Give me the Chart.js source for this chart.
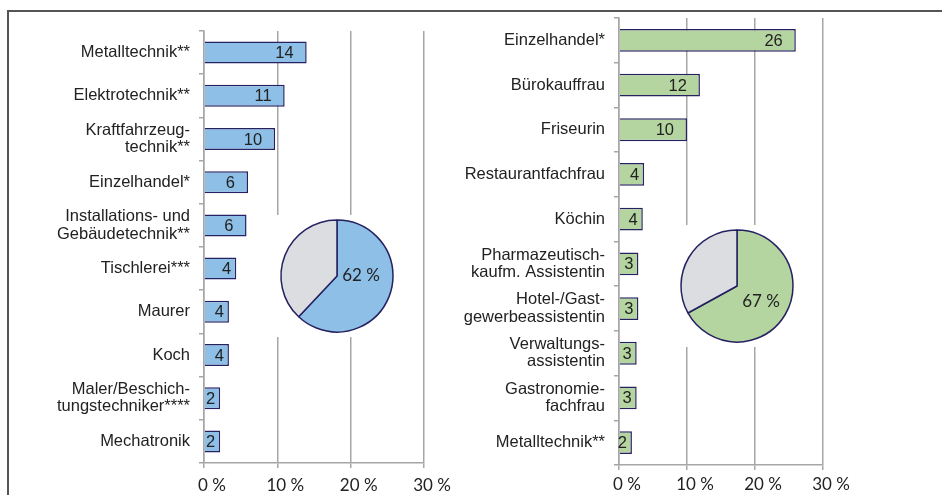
<!DOCTYPE html>
<html>
<head>
<meta charset="utf-8">
<script src="https://cdn.jsdelivr.net/npm/chart.js@4.4.0/dist/chart.umd.min.js"></script>
<style>
  body { margin: 0; background: #fff; }
  #wrap { position: relative; width: 942px; height: 495px; overflow: hidden; }
  #frame { position: absolute; left: 7px; top: 10px; width: 960px; height: 500px;
           border-top: 2px solid #555; border-left: 2px solid #555; }
  canvas { position: absolute; }
  .pie { background: #fff; }
</style>
</head>
<body>
<div id="wrap">
  <div id="frame"></div>
  <canvas id="men" width="470" height="495" style="left:0;top:0"></canvas>
  <canvas id="women" width="502" height="495" style="left:440px;top:0"></canvas>
  <canvas id="menPie" class="pie" width="124" height="122" style="left:275px;top:215px"></canvas>
  <canvas id="womenPie" class="pie" width="124" height="122" style="left:675px;top:225px"></canvas>
</div>
<script>
const menJobs = [
  'Metalltechnik**',
  'Elektrotechnik**',
  ['Kraftfahrzeug-', 'technik**'],
  'Einzelhandel*',
  ['Installations- und', 'Gebäudetechnik**'],
  'Tischlerei***',
  'Maurer',
  'Koch',
  ['Maler/Beschich-', 'tungstechniker****'],
  'Mechatronik'
];
const menValues = [14, 11, 9.7, 6, 5.8, 4.4, 3.4, 3.4, 2.2, 2.2];
const menLabels = ['14', '11', '10', '6', '6', '4', '4', '4', '2', '2'];

const womenJobs = [
  'Einzelhandel*',
  'Bürokauffrau',
  'Friseurin',
  'Restaurantfachfrau',
  'Köchin',
  ['Pharmazeutisch-', 'kaufm. Assistentin'],
  ['Hotel-/Gast-', 'gewerbeassistentin'],
  ['Verwaltungs-', 'assistentin'],
  ['Gastronomie-', 'fachfrau'],
  'Metalltechnik**'
];
const womenValues = [26, 11.9, 10, 3.7, 3.5, 2.85, 2.85, 2.6, 2.6, 1.9];
const womenLabels = ['26', '12', '10', '4', '4', '3', '3', '3', '3', '2'];

const xTicks = [0, 10, 20, 30];
const menPie = [62, 38];
const womenPie = [67, 33];

const gridColor = '#a6a6a6';
const navy = '#262262';
const textColor = '#222';

const barText = {
  id: 'barText',
  afterDatasetsDraw(chart, args, opts) {
    const ctx = chart.ctx;
    const meta = chart.getDatasetMeta(0);
    ctx.save();
    ctx.font = '16.5px "Liberation Sans"';
    ctx.fillStyle = textColor;
    ctx.textAlign = 'right';
    ctx.textBaseline = 'middle';
    meta.data.forEach((bar, i) => {
      const w = bar.x - bar.base;
      ctx.fillText(opts.labels[i], bar.x - (w > 35 ? 13 : 5), bar.y + 1);
    });
    ctx.restore();
  }
};

const pieText = {
  id: 'pieText',
  afterDatasetsDraw(chart, args, opts) {
    const ctx = chart.ctx;
    const arc = chart.getDatasetMeta(0).data[0];
    const p = arc.tooltipPosition();
    ctx.save();
    ctx.font = '17px Lato';
    ctx.fillStyle = textColor;
    ctx.textAlign = 'center';
    ctx.textBaseline = 'middle';
    ctx.fillText(opts.text, p.x + opts.shift[0], p.y + opts.shift[1]);
    ctx.restore();
  }
};

function barChart(id, jobs, values, labels, color, box) {
  return new Chart(document.getElementById(id), {
    type: 'bar',
    data: {
      labels: jobs,
      datasets: [{
        data: values,
        backgroundColor: color,
        borderColor: navy,
        borderWidth: 1.5,
        barPercentage: 0.51,
        categoryPercentage: 1
      }]
    },
    options: {
      indexAxis: 'y',
      responsive: false,
      animation: false,
      events: [],
      layout: { padding: { top: box.top, right: box.right, left: 0, bottom: 0 } },
      plugins: {
        legend: { display: false },
        tooltip: { enabled: false },
        barText: { labels: labels }
      },
      scales: {
        x: {
          min: xTicks[0],
          max: xTicks[xTicks.length - 1],
          ticks: {
            stepSize: xTicks[1] - xTicks[0],
            callback: v => v + ' %',
            font: { family: 'Lato', size: 17 },
            color: textColor,
            padding: box.tickPad,
            labelOffset: 8,
            maxRotation: 0
          },
          grid: { color: gridColor, lineWidth: 1.5, tickLength: 5 },
          border: { color: gridColor, width: 1.5 },
          afterFit: s => { s.height = box.xh; s.paddingLeft = 0; s.paddingRight = 0; }
        },
        y: {
          ticks: {
            font: { family: 'Liberation Sans', size: 16.5, lineHeight: 1.05 },
            color: textColor,
            padding: 9,
            autoSkip: false
          },
          grid: { drawOnChartArea: false, color: gridColor, lineWidth: 1.5, tickLength: 5 },
          border: { color: gridColor, width: 1.5 },
          afterFit: s => { s.width = box.yw; s.paddingTop = 0; s.paddingBottom = 0; }
        }
      }
    },
    plugins: [barText]
  });
}

function pieChart(id, values, color, shift) {
  return new Chart(document.getElementById(id), {
    type: 'pie',
    data: {
      datasets: [{
        data: values,
        backgroundColor: [color, '#dcdde0'],
        borderColor: navy,
        borderWidth: 1.5,
        radius: 56
      }]
    },
    options: {
      responsive: false,
      animation: false,
      events: [],
      layout: { padding: 0 },
      plugins: {
        legend: { display: false },
        tooltip: { enabled: false },
        pieText: { text: values[0] + ' %', shift: shift }
      }
    },
    plugins: [pieText]
  });
}

barChart('men', menJobs, menValues, menLabels, '#8ebfe7',
  { top: 31, right: 46, yw: 204, xh: 32, tickPad: 7 });
barChart('women', womenJobs, womenValues, womenLabels, '#b5d5a0',
  { top: 18, right: 119, yw: 179, xh: 30, tickPad: 4 });
pieChart('menPie', menPie, '#8ebfe7', [-2, -11]);
pieChart('womenPie', womenPie, '#b5d5a0', [0, 1]);
</script>
</body>
</html>
